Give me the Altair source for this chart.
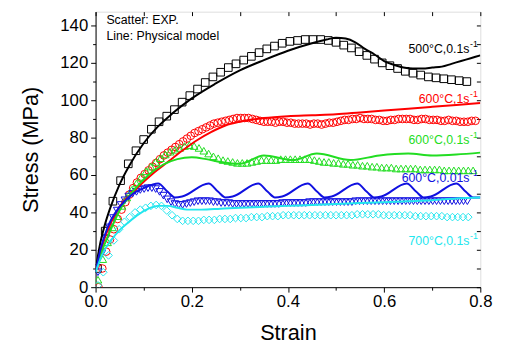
import altair as alt
import pandas as pd

# ---------------- experimental data (scatter) ----------------
series_names = ["500°C,0.1s-1", "600°C,1s-1", "600°C,0.1s-1", "600°C,0.01s-1", "700°C,0.1s-1"]
series_colors = ["#000000", "#ff0000", "#22dd22", "#1010e0", "#22e6ee"]
series_shapes = ["square", "circle", "triangle-up", "triangle-down", "diamond"]

# strain sampling (start, step) for each experimental curve
exp_start = [0.004, 0.006, 0.005, 0.005, 0.005]
exp_step = [0.016, 0.008, 0.010, 0.008, 0.011]

exp_500_01 = [10, 30, 46, 57, 66, 73, 79, 84.5, 88.5, 91.5, 95, 99, 102.5, 106, 109.5, 112.5,
              115, 117.5, 119.5, 121.5, 123.5, 125.5, 127.5, 129, 130.5, 131.5, 132, 132.5,
              132.5, 132.5, 132, 131, 129.5, 128, 126, 124, 122, 120, 118.5, 117, 115.5,
              114.5, 113.5, 112.5, 112, 111.5, 111, 110.5, 110]

exp_600_1 = [0, 10, 19, 25.5, 31, 36.5, 41.5, 45.5, 49.5, 53, 56, 58.5, 60.5, 62.5, 64.5, 66.5,
             68.5, 70.5, 72, 73.5, 75, 76.5, 78, 79.5, 81, 82.5, 83.5, 84.5, 85.5, 86.5, 87.5,
             88, 88.5, 89, 89.5, 90, 90.5, 90.5, 90.5, 90.5, 90, 89.5, 89, 88.5, 88.5, 88.5,
             88, 88.5, 88.5, 88, 88, 87.5, 87.5, 87.5, 87.5, 87, 87.5, 87.5, 87, 87.5, 88, 88,
             88.5, 89, 89.5, 89.5, 90, 90, 90.5, 90, 90, 90, 89.5, 89.5, 89, 89, 89.5, 89.5,
             90, 90, 90, 90, 89.5, 89.5, 90, 90, 89.5, 89.5, 89.5, 89, 89, 89.5, 89, 89, 88.5,
             88.5, 88.5, 89, 89]

exp_600_01 = [4, 15, 24, 32, 38, 43.5, 48, 52, 55.5, 59, 62, 64.5, 67, 69, 71, 72.5, 73.5, 74.5,
              75.5, 76, 75.5, 74.5, 73, 71.5, 70, 69, 68, 67.5, 67, 66.5, 66.5, 66.5, 67, 67.5,
              68, 68, 68, 68, 68.5, 68.5, 68.5, 68.5, 68.5, 68.5, 68.5, 68, 67.5, 67, 67, 66.5,
              66.5, 66, 66, 65.5, 65.5, 65, 65, 64.5, 64.5, 64, 64, 64, 63.5, 63.5, 63.5, 63.5,
              63.5, 63, 63, 63, 63, 63, 62.5, 62.5, 62.5, 62.5, 62.5, 62.5, 62.5]

exp_600_001 = [8, 18, 26, 32, 37, 41, 44, 46.5, 48.5, 50, 51, 52, 52.5, 53, 53, 52.5, 51, 49, 47,
               45.5, 44.5, 44, 44, 44.5, 45, 45.5, 46, 46, 46, 46, 45.5, 45.5, 45, 45, 45, 44.5,
               44.5, 44.5, 44.5, 44.5, 44.5, 44.5, 44.5, 44.5, 44.5, 44.5, 44.5, 44.5, 45, 45,
               45, 45, 45, 45, 45, 45.5, 45.5, 45.5, 45.5, 45.5, 45.5, 45.5, 45.5, 45.5, 45.5,
               45.5, 45.5, 46, 46, 46, 46, 46, 46, 46, 46, 46, 46, 46, 46, 46, 46, 46, 46, 46,
               46, 46, 46, 46, 46, 46, 46, 46, 46, 46, 46, 46, 46]

exp_700_01 = [1, 8, 17, 25, 31, 35, 37.5, 40, 41.5, 42.5, 43.5, 44, 43.5, 41, 38.5, 36.5, 35.5,
              35.5, 35.5, 35.5, 36, 36, 36, 36.5, 36.5, 36.5, 37, 37, 37, 37.5, 37.5, 37.5, 38,
              38, 38, 38.5, 38.5, 38.5, 38.5, 38.5, 38.5, 38.5, 38.5, 38.5, 38.5, 38.5, 38.5,
              38.5, 38.5, 39, 39, 39, 39, 39, 38.5, 38.5, 38.5, 38.5, 38.5, 38.5, 38, 38, 38,
              38, 38, 38, 37.5, 37.5, 37.5, 37.5, 37.5]

exp_values = [exp_500_01, exp_600_1, exp_600_01, exp_600_001, exp_700_01]

# ---------------- physical model (lines) ----------------
mod_500_01_x = [0, 0.005, 0.01, 0.02, 0.03, 0.05, 0.07, 0.1, 0.13, 0.16, 0.2, 0.25, 0.3, 0.35,
                0.4, 0.45, 0.48, 0.5, 0.52, 0.54, 0.56, 0.58, 0.6, 0.62, 0.64, 0.66, 0.68, 0.7,
                0.72, 0.74, 0.76, 0.78, 0.8]
mod_500_01_y = [8, 17, 24, 34, 42, 55, 65, 77, 86, 93, 101, 109, 116, 121.5, 126.5, 130.5,
                132.5, 133.5, 133, 131, 127.5, 124.5, 121, 119, 117.5, 117, 117, 117.5, 118,
                119.5, 121, 122.5, 124]

mod_600_1_x = [0, 0.01, 0.02, 0.035, 0.05, 0.07, 0.09, 0.12, 0.15, 0.18, 0.21, 0.24, 0.27, 0.3,
               0.35, 0.4, 0.45, 0.5, 0.55, 0.6, 0.65, 0.7, 0.75, 0.8]
mod_600_1_y = [8, 18, 27, 36, 43, 49, 54, 61, 67, 73, 78.5, 83, 86.5, 88.5, 90.5, 91.5, 92,
               92.5, 93.5, 94.5, 95.5, 96.5, 97.5, 98.5]

mod_600_01_x = [0, 0.01, 0.027, 0.05, 0.08, 0.11, 0.14, 0.17, 0.2, 0.23, 0.26, 0.3, 0.35, 0.41,
                0.46, 0.53, 0.59, 0.65, 0.7, 0.75, 0.8]
mod_600_01_y = [8, 17, 28, 41, 52, 60, 65.5, 68.5, 69.5, 68.5, 67, 66, 70.5, 68, 71.5, 68,
                70.5, 71.5, 70.5, 71, 72]

mod_600_001_x = [0, 0.01, 0.025, 0.05, 0.075, 0.1, 0.13, 0.15, 0.165, 0.18, 0.235, 0.255, 0.27,
                 0.285, 0.338, 0.358, 0.373, 0.388, 0.441, 0.461, 0.476, 0.491, 0.544, 0.564,
                 0.579, 0.594, 0.647, 0.667, 0.682, 0.697, 0.75, 0.77, 0.785, 0.8]
mod_600_001_y = [8, 20, 32, 43, 49.5, 53, 55.5, 51, 48, 48.5, 55.5, 51, 48, 48.5, 55.5, 51, 48,
                 48.5, 55.5, 51, 48, 48.5, 55.5, 51, 48, 48.5, 55.5, 51, 48, 48.5, 55.5, 51, 48,
                 48]

mod_700_01_x = [0, 0.01, 0.02, 0.035, 0.05, 0.07, 0.09, 0.11, 0.13, 0.15, 0.17, 0.19, 0.22,
                0.26, 0.3, 0.35, 0.4, 0.45, 0.5, 0.55, 0.6, 0.65, 0.7, 0.75, 0.8]
mod_700_01_y = [8, 15, 20.5, 26, 30.5, 35, 39, 42, 43.5, 43.5, 42.5, 41.5, 41.5, 42, 42.5, 43,
                43.5, 44, 44.5, 45, 45.5, 46, 46.5, 47.5, 48]

mod_x = [mod_500_01_x, mod_600_1_x, mod_600_01_x, mod_600_001_x, mod_700_01_x]
mod_y = [mod_500_01_y, mod_600_1_y, mod_600_01_y, mod_600_001_y, mod_700_01_y]

# ---------------- labels ----------------
label_main = ["500°C,0.1s", "600°C,1s", "600°C,0.1s", "600°C,0.01s", "700°C,0.1s"]
label_sup = ["-1", "-1", "-1", "-1", "-1"]
label_strain = [0.7775, 0.7775, 0.7775, 0.7775, 0.7775]
label_stress = [127.5, 100.9, 78.8, 58.6, 24.6]
note_lines = ["Scatter: EXP.", "Line: Physical model"]

x_ticks = [0.0, 0.1, 0.2, 0.3, 0.4, 0.5, 0.6, 0.7, 0.8]
y_ticks = [0, 10, 20, 30, 40, 50, 60, 70, 80, 90, 100, 110, 120, 130, 140]

# ---------------- tables ----------------
rows = []
for name, st, sp, vals in zip(series_names, exp_start, exp_step, exp_values):
    for i, v in enumerate(vals):
        rows.append({"strain": round(st + sp * i, 4), "stress": v, "series": name})
exp_df = pd.DataFrame(rows)

rows = []
for name, xs, ys in zip(series_names, mod_x, mod_y):
    for i, (xv, yv) in enumerate(zip(xs, ys)):
        rows.append({"strain": xv, "stress": yv, "series": name, "order": i})
mod_df = pd.DataFrame(rows)

lab_df = pd.DataFrame({"main": label_main, "sup": label_sup, "strain": label_strain,
                       "stress": label_stress, "series": series_names})

FONT = "Liberation Sans"
color_scale = alt.Scale(domain=series_names, range=series_colors)
shape_scale = alt.Scale(domain=series_names, range=series_shapes)
x_scale = alt.Scale(domain=[0, 0.8], nice=False, zero=False)
y_scale = alt.Scale(domain=[0, 147.4], nice=False)

x_axis = alt.Axis(values=x_ticks, title="Strain",
                  labelExpr="round(datum.value*10) % 2 == 0 ? format(datum.value, '.1f') : ''",
                  tickSize={"condition": {"test": "round(datum.value*10) % 2 == 0", "value": 5}, "value": 3},
                  labelFontSize=17, labelFont=FONT, labelColor="black", labelPadding=2,
                  labelFlush=False, labelOverlap=False,
                  titleFont=FONT, titleFontSize=22, titleFontWeight="normal", titleColor="black",
                  titlePadding=13, domainColor="black", tickColor="black", grid=False)
y_axis = alt.Axis(values=y_ticks, title="Stress (MPa)",
                  labelExpr="datum.value % 20 == 0 ? datum.value : ''",
                  tickSize={"condition": {"test": "datum.value % 20 == 0", "value": 5}, "value": 3},
                  labelFontSize=17, labelFont=FONT, labelColor="black", labelPadding=3,
                  labelFlush=False, labelOverlap=False,
                  titleFont=FONT, titleFontSize=22, titleFontWeight="normal", titleColor="black",
                  titlePadding=18, domainColor="black", tickColor="black", grid=False)

points = alt.Chart(exp_df).mark_point(filled=False, size=60, strokeWidth=1, opacity=1, clip=True).encode(
    x=alt.X("strain:Q", scale=x_scale, axis=x_axis),
    y=alt.Y("stress:Q", scale=y_scale, axis=y_axis),
    color=alt.Color("series:N", scale=color_scale, legend=None),
    shape=alt.Shape("series:N", scale=shape_scale, legend=None),
)

lines = alt.Chart(mod_df).mark_line(strokeWidth=2, interpolate="monotone", clip=True).encode(
    x=alt.X("strain:Q", scale=x_scale, axis=None),
    y=alt.Y("stress:Q", scale=y_scale, axis=None),
    color=alt.Color("series:N", scale=color_scale, legend=None),
    detail="series:N",
    order="order:Q",
)

frame = alt.Chart(mod_df).mark_point(opacity=0).encode(
    x=alt.X("strain:Q", scale=x_scale,
            axis=alt.Axis(orient="top", values=x_ticks, labels=False, title=None, domain=False,
                          tickSize=4, offset=-4, tickColor="black", grid=False)),
    y=alt.Y("stress:Q", scale=y_scale,
            axis=alt.Axis(orient="right", values=y_ticks, labels=False, title=None, domain=False,
                          tickSize=4, offset=-4, tickColor="black", grid=False)),
)

lab_main = alt.Chart(lab_df).mark_text(align="right", baseline="middle", font=FONT, fontSize=12.5).encode(
    x=alt.X("strain:Q", scale=x_scale, axis=None), y=alt.Y("stress:Q", scale=y_scale, axis=None),
    text="main:N", color=alt.Color("series:N", scale=color_scale, legend=None))
lab_sup = alt.Chart(lab_df).mark_text(align="left", baseline="middle", font=FONT, fontSize=9, dy=-5, dx=0.5).encode(
    x=alt.X("strain:Q", scale=x_scale, axis=None), y=alt.Y("stress:Q", scale=y_scale, axis=None),
    text="sup:N", color=alt.Color("series:N", scale=color_scale, legend=None))

note1 = alt.Chart(pd.DataFrame({"t": [note_lines[0]]})).mark_text(
    align="left", baseline="middle", font=FONT, fontSize=12.5, color="black").encode(
    x=alt.value(11), y=alt.value(9), text="t:N")
note2 = alt.Chart(pd.DataFrame({"t": [note_lines[1]]})).mark_text(
    align="left", baseline="middle", font=FONT, fontSize=12.5, color="black").encode(
    x=alt.value(11), y=alt.value(25), text="t:N")

chart = alt.layer(points, lines, frame, lab_main, lab_sup, note1, note2).resolve_axis(
    x="independent", y="independent"
).properties(
    width=391, height=280,
    padding={"left": 89, "top": 1, "right": 20, "bottom": 55},
    autosize=alt.AutoSizeParams(type="none"),
).configure_view(stroke="black", strokeWidth=1).configure(background="white")

chart.save("out.html", embed_options={"renderer": "svg", "actions": False})
